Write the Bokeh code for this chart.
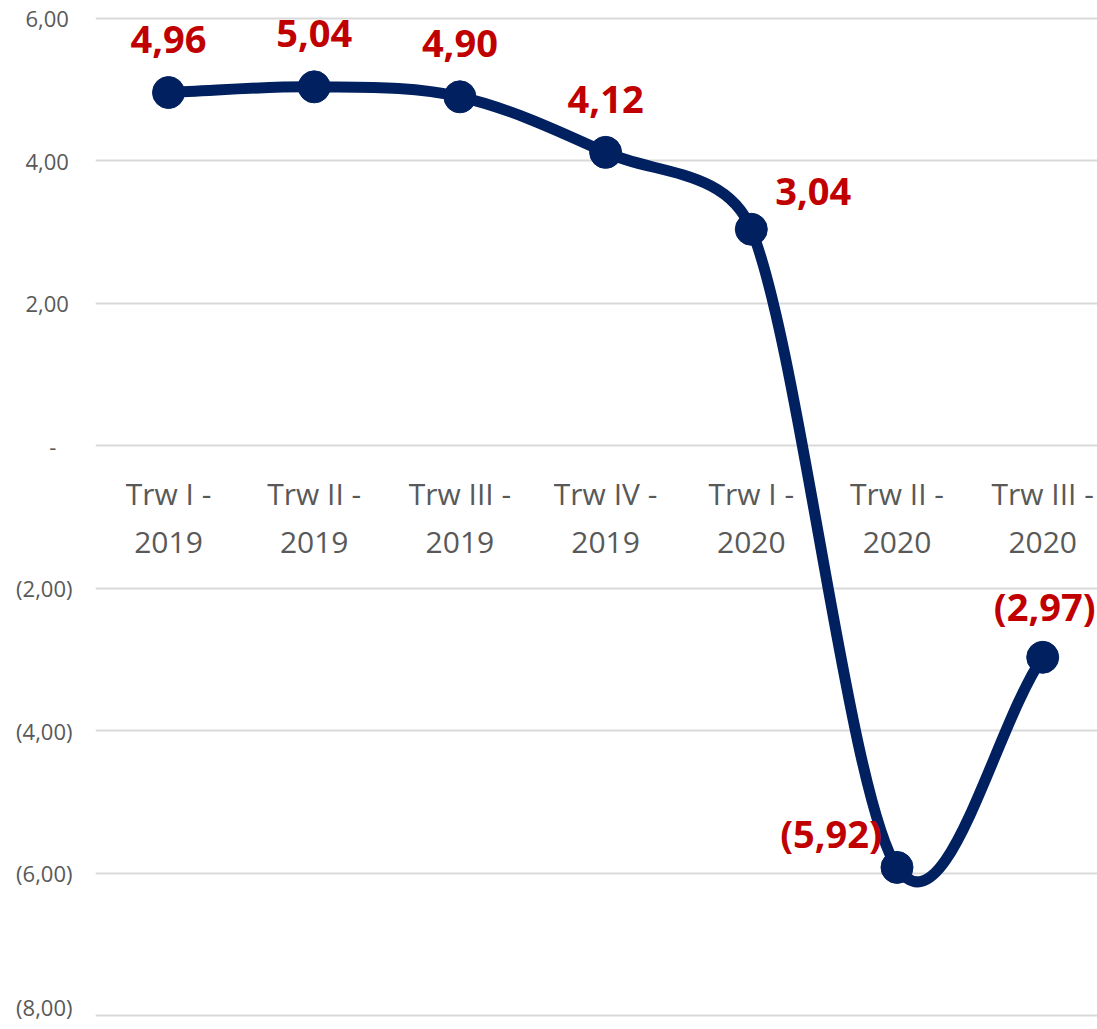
import numpy as np
from bokeh.plotting import figure
from bokeh.models import FixedTicker, CustomJSTickFormatter, ColumnDataSource, Range1d
from bokeh.core.properties import value
from bokeh.embed import file_html
from bokeh.resources import INLINE

# ---- data ----
categories = ["Trw I - 2019", "Trw II - 2019", "Trw III - 2019", "Trw IV - 2019",
              "Trw I - 2020", "Trw II - 2020", "Trw III - 2020"]
tick_labels = ["Trw I -\n2019", "Trw II -\n2019", "Trw III -\n2019", "Trw IV -\n2019",
               "Trw I -\n2020", "Trw II -\n2020", "Trw III -\n2020"]
values = [4.96, 5.04, 4.90, 4.12, 3.04, -5.92, -2.97]
y_ticks = [-8, -6, -4, -2, 0, 2, 4, 6]

# label offsets (screen px)
label_dx = [0, 0, 0, 0, 62, -66, 2]
label_dy = [-53, -53, -53, -53, -38, -34, -51]

NAVY = "#002060"
RED = "#C00000"
GRAY = "#595959"
FONT = "Open Sans"

FRAME_W, FRAME_H = 1002, 1009
X0, X1 = -0.501, 6.376
Y0, Y1 = -8.084, 6.084

def fmt(v):
    s = f"{abs(v):.2f}".replace(".", ",")
    return f"({s})" if v < 0 else s

xs = np.arange(len(values), dtype=float)
ys = np.array(values, dtype=float)

# Smoothed line (Excel-like Bezier smoothing), handles computed in screen space
sxk = FRAME_W / (X1 - X0)
syk = FRAME_H / (Y1 - Y0)
P = np.column_stack([xs * sxk, ys * syk])
n = len(P)
before = np.zeros_like(P)
after = np.zeros_like(P)
K = 0.4
for i in range(n):
    if i == 0:
        d = P[1] - P[0]
        after[i] = P[0] + d / 3.0
        before[i] = P[0]
        continue
    if i == n - 1:
        d = P[i] - P[i - 1]
        before[i] = P[i] - d / 3.0
        after[i] = P[i]
        continue
    T = (P[i + 1] - P[i - 1]) / 6.0
    tl = np.hypot(*T)
    dp = np.hypot(*(P[i] - P[i - 1]))
    dn = np.hypot(*(P[i + 1] - P[i]))
    hb = min(tl, K * dp)
    ha = min(tl, K * dn)
    u = T / tl if tl > 0 else T
    before[i] = P[i] - u * hb
    after[i] = P[i] + u * ha

seg = ColumnDataSource(dict(
    x0=xs[:-1], y0=ys[:-1], x1=xs[1:], y1=ys[1:],
    cx0=after[:-1, 0] / sxk, cy0=after[:-1, 1] / syk,
    cx1=before[1:, 0] / sxk, cy1=before[1:, 1] / syk))

p = figure(frame_width=FRAME_W, frame_height=FRAME_H,
           x_range=Range1d(X0, X1), y_range=Range1d(Y0, Y1),
           output_backend="svg", toolbar_location=None,
           min_border_left=95, min_border_right=0, min_border_top=12, min_border_bottom=0)
p.outline_line_color = None
p.background_fill_color = "white"
p.border_fill_color = "white"

# y axis
p.yaxis.ticker = FixedTicker(ticks=y_ticks)
p.yaxis.formatter = CustomJSTickFormatter(code="""
    if (Math.abs(tick) < 1e-9) { return "-\u2007\u2009"; }
    const s = Math.abs(tick).toFixed(2).replace(".", ",");
    return tick < 0 ? "(" + s + ")" : s + "\u2009";
""")
p.yaxis.axis_line_color = None
p.yaxis.major_tick_line_color = None
p.yaxis.minor_tick_line_color = None
p.yaxis.major_tick_out = 0
p.yaxis.major_tick_in = 0
p.yaxis.major_label_standoff = 23
p.yaxis.major_label_text_font = FONT
p.yaxis.major_label_text_font_size = "22px"
p.yaxis.major_label_text_color = GRAY

# x axis at zero
p.xaxis.ticker = FixedTicker(ticks=list(range(len(categories))))
p.xaxis.major_label_overrides = {i: t for i, t in enumerate(tick_labels)}
p.xaxis.fixed_location = 0
p.xaxis.axis_line_color = None
p.xaxis.major_tick_line_color = None
p.xaxis.minor_tick_line_color = None
p.xaxis.major_tick_out = 0
p.xaxis.major_tick_in = 0
p.xaxis.major_label_standoff = 27
p.xaxis.major_label_text_font = FONT
p.xaxis.major_label_text_font_size = "30px"
p.xaxis.major_label_text_color = GRAY
p.xaxis.major_label_text_line_height = 1.18

p.xgrid.grid_line_color = None
p.ygrid.grid_line_color = "#D9D9D9"
p.ygrid.grid_line_width = 2

p.bezier(x0="x0", y0="y0", x1="x1", y1="y1", cx0="cx0", cy0="cy0", cx1="cx1", cy1="cy1",
         source=seg, line_color=NAVY, line_width=11, line_cap="round")

pts = ColumnDataSource(dict(x=xs, y=ys, label=[fmt(v) for v in values],
                            dx=label_dx, dy=label_dy))
p.scatter(x="x", y="y", source=pts, size=32, fill_color=NAVY, line_color=NAVY)
p.text(x="x", y="y", text="label", source=pts, x_offset="dx", y_offset="dy",
       text_font=value(FONT), text_font_style="bold", text_font_size="38px",
       text_color=RED, text_align="center", text_baseline="middle")

open("out.html", "w").write(file_html(p, INLINE))
